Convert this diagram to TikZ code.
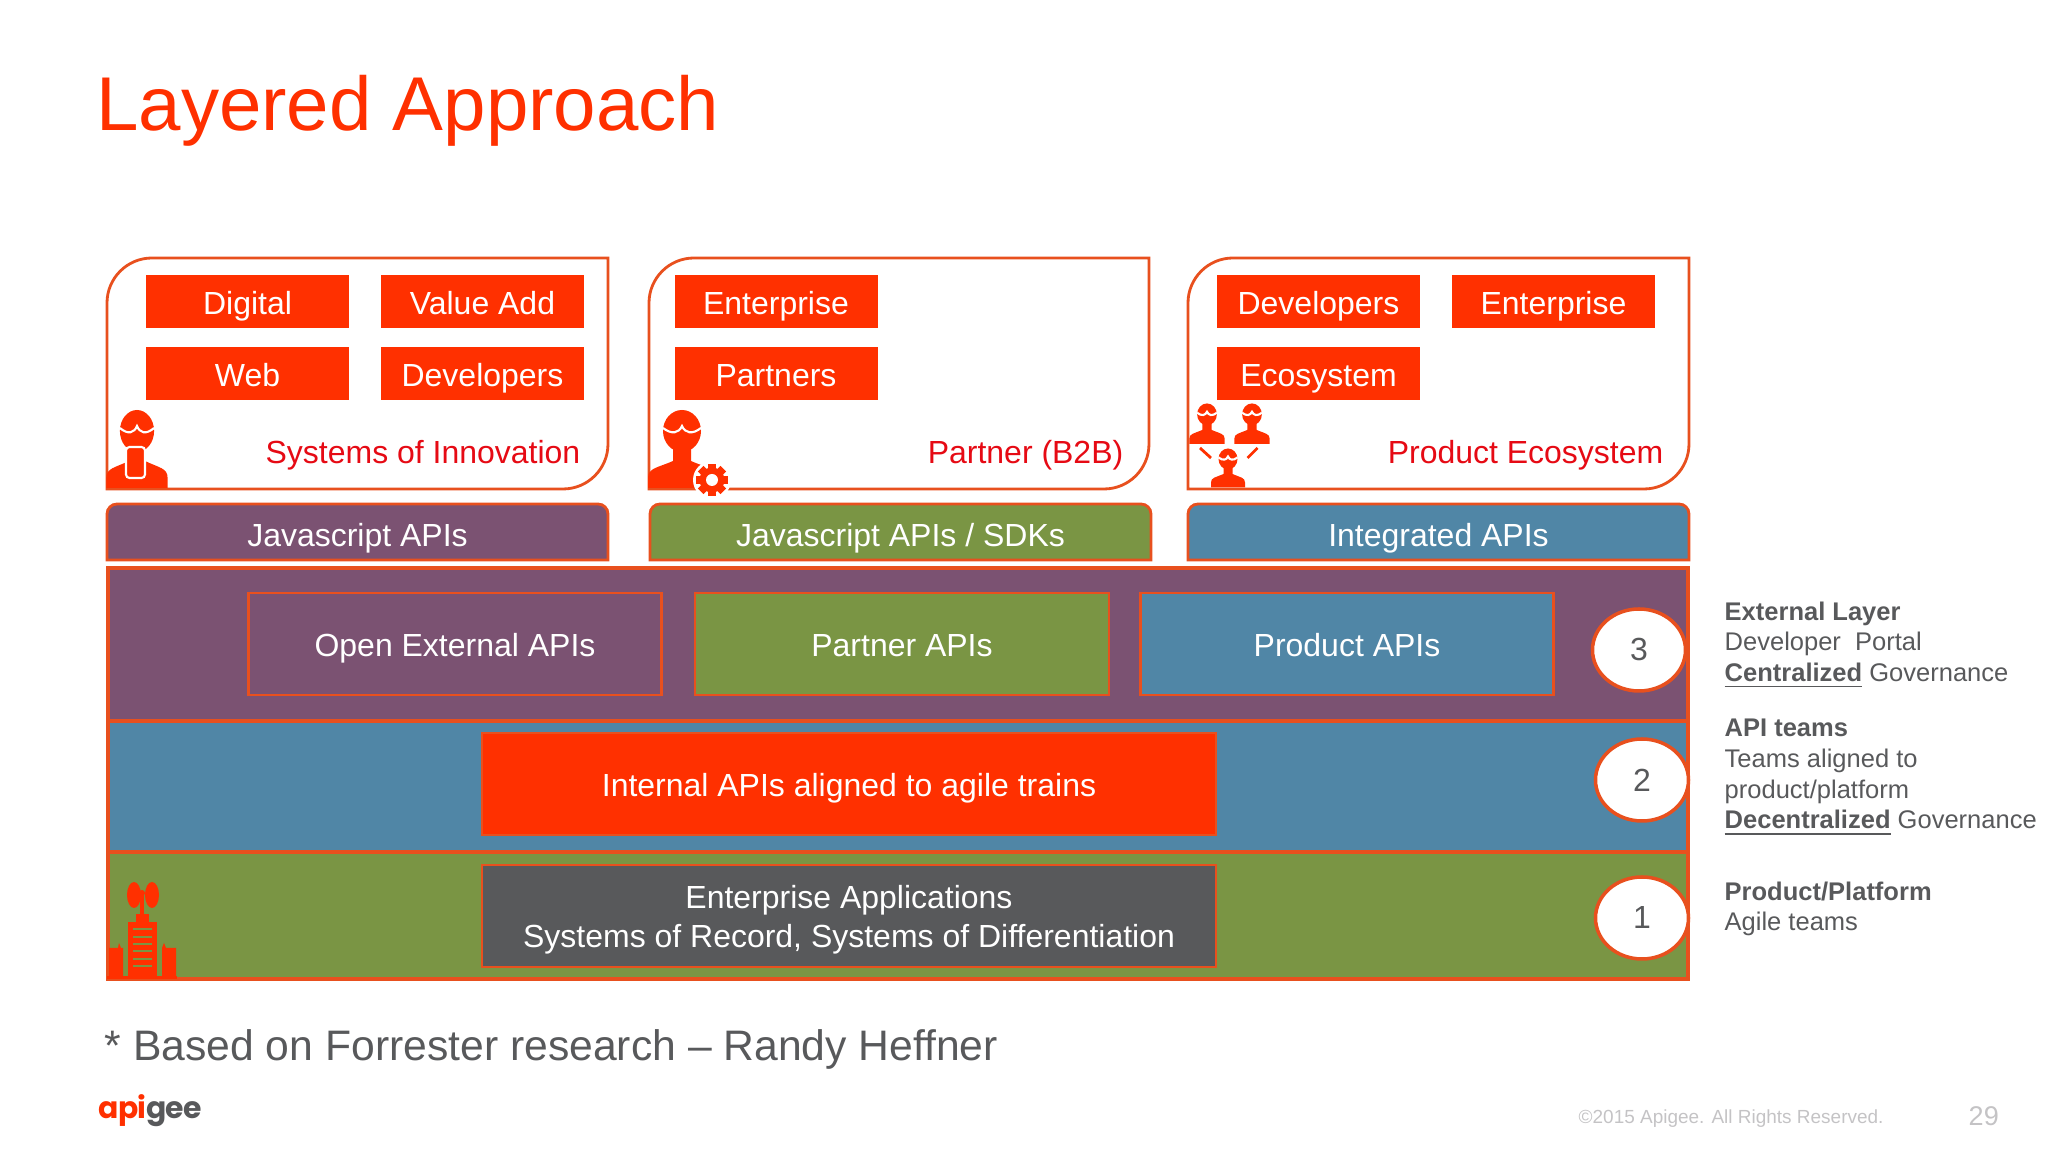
\documentclass[tikz,border=0pt]{standalone}
\usepackage{fontspec}
\setmainfont{Liberation Sans}
\newfontfamily\logofont[LetterSpace=-3]{Poppins}
\usepackage{tikz}
\usetikzlibrary{shapes.geometric}
\definecolor{apired}{RGB}{255,48,0}
\definecolor{edgered}{RGB}{232,80,30}
\definecolor{labelred}{RGB}{230,10,20}
\definecolor{plum}{RGB}{123,82,114}
\definecolor{moss}{RGB}{122,149,68}
\definecolor{steel}{RGB}{80,134,166}
\definecolor{slate}{RGB}{88,89,91}
\definecolor{faint}{RGB}{196,195,197}
\tikzstyle{Tag}=[shape=rectangle,fill=apired,text=white,minimum width=2.03cm,minimum height=0.53cm,inner sep=0pt,text height=7.4pt,text depth=0pt,font=\fontsize{9.1}{11}\selectfont]
\tikzstyle{Caption}=[text=labelred,inner sep=0pt,anchor=base east,font=\fontsize{9.1}{11}\selectfont]
\tikzstyle{Panel}=[draw=edgered,fill=white,line width=0.8pt]
\tikzstyle{Cap}=[draw=edgered,line width=0.8pt]
\tikzstyle{Strip}=[text=white,inner sep=0pt,text height=8.4pt,text depth=0pt,font=\fontsize{9.1}{11}\selectfont]
\tikzstyle{Band}=[shape=rectangle,draw=edgered,line width=1pt,minimum width=15.80cm,inner sep=0pt]
\tikzstyle{Api}=[shape=rectangle,draw=edgered,line width=0.8pt,text=white,minimum height=1.02cm,inner sep=0pt,text height=7.4pt,text depth=0pt,font=\fontsize{9.1}{11}\selectfont]
\tikzstyle{Step}=[shape=ellipse,draw=edgered,fill=white,text=slate,line width=1pt,minimum width=0.93cm,minimum height=0.82cm,inner sep=0pt,font=\fontsize{9.1}{11}\selectfont]
\tikzstyle{Note}=[text=slate,inner sep=0pt,anchor=north west,align=left,font=\fontsize{7.26}{8.73}\selectfont]
\tikzset{
 member/.pic={
  \fill[apired] (0,0.57) ellipse (0.19 and 0.21);
  \fill[apired] (-0.34,0) -- (-0.34,0.1) .. controls (-0.34,0.2) and (-0.25,0.2) .. (-0.09,0.27) -- (-0.09,0.4) -- (0.09,0.4) -- (0.09,0.27) .. controls (0.25,0.2) and (0.34,0.2) .. (0.34,0.1) -- (0.34,0) -- cycle;
  \draw[white,line width=0.6pt] (-0.19,0.6) .. controls (-0.1,0.53) and (-0.03,0.55) .. (0,0.62) .. controls (0.03,0.55) and (0.1,0.53) .. (0.19,0.6);
 }
}
\begin{document}
\begin{tikzpicture}
 \useasboundingbox (0,0) rectangle (20.48,-11.53);

 \node[text=apired,inner sep=0pt,anchor=base west,font=\fontsize{21.7}{26}\selectfont] (title) at (0.955,-1.31){Layered Approach};

 % top panels
 \draw[Panel] (1.07,-4.89) -- (1.07,-3.03) arc (180:90:0.45) -- (6.08,-2.58) -- (6.08,-4.44) arc (0:-90:0.45) -- cycle;
 \draw[Panel] (6.49,-4.89) -- (6.49,-3.03) arc (180:90:0.45) -- (11.49,-2.58) -- (11.49,-4.44) arc (0:-90:0.45) -- cycle;
 \draw[Panel] (11.88,-4.89) -- (11.88,-3.03) arc (180:90:0.45) -- (16.89,-2.58) -- (16.89,-4.44) arc (0:-90:0.45) -- cycle;

 \node[Tag] (digital) at (2.475,-3.015){Digital};
 \node[Tag] (valueadd) at (4.825,-3.015){Value Add};
 \node[Tag] (web) at (2.475,-3.735){Web};
 \node[Tag] (developers) at (4.825,-3.735){Developers};
 \node[Caption] (innovation) at (5.81,-4.635){Systems of Innovation};

 \node[Tag] (enterprise) at (7.76,-3.015){Enterprise};
 \node[Tag] (partners) at (7.76,-3.735){Partners};
 \node[Caption] (btob) at (11.24,-4.635){Partner (B2B)};

 \node[Tag] (devs) at (13.185,-3.015){Developers};
 \node[Tag] (ent) at (15.535,-3.015){Enterprise};
 \node[Tag] (ecosystem) at (13.185,-3.735){Ecosystem};
 \node[Caption] (prodeco) at (16.64,-4.635){Product Ecosystem};

 % people
 \pic[xscale=0.9] at (1.37,-4.88) {member};
 \draw[white,fill=apired,line width=0.6pt,rounded corners=1pt] (1.26,-4.47) rectangle (1.45,-4.78);

 \pic at (6.82,-4.88) {member};
 \fill[white] (7.12,-4.80) circle (0.19);
 \begin{scope}[shift={(7.12,-4.80)}]
 \foreach \a in {0,45,...,315}
  \fill[apired,rotate=\a] (-0.04,0) rectangle (0.04,0.16);
 \fill[apired] (0,0) circle (0.125);
 \fill[white] (0,0) circle (0.06);
 \end{scope}

 \pic[scale=0.52] at (12.07,-4.44) {member};
 \pic[scale=0.52] at (12.52,-4.44) {member};
 \pic[scale=0.5] at (12.28,-4.875) {member};
 \draw[apired,line width=0.8pt] (12.00,-4.48) -- (12.11,-4.58);
 \draw[apired,line width=0.8pt] (12.575,-4.48) -- (12.475,-4.58);

 % api bars
 \draw[Cap,fill=plum] (1.07,-5.60) -- (1.07,-5.14) arc (180:90:0.1) -- (5.98,-5.04) arc (90:0:0.1) -- (6.08,-5.60) -- cycle;
 \draw[Cap,fill=moss] (6.50,-5.60) -- (6.50,-5.14) arc (180:90:0.1) -- (11.41,-5.04) arc (90:0:0.1) -- (11.51,-5.60) -- cycle;
 \draw[Cap,fill=steel] (11.88,-5.60) -- (11.88,-5.14) arc (180:90:0.1) -- (16.79,-5.04) arc (90:0:0.1) -- (16.89,-5.60) -- cycle;
 \node[Strip] (jsapis) at (3.575,-5.32){Javascript APIs};
 \node[Strip] (jssdks) at (9.005,-5.32){Javascript APIs / SDKs};
 \node[Strip] (integrated) at (14.385,-5.32){Integrated APIs};

 % layers
 \node[Band,fill=plum,minimum height=1.53cm] (external) at (8.98,-6.445){};
 \node[Band,fill=steel,minimum height=1.31cm] (internal) at (8.98,-7.865){};
 \node[Band,fill=moss,minimum height=1.27cm] (base) at (8.98,-9.155){};

 \node[Api,fill=plum,minimum width=4.13cm] (open) at (4.55,-6.44){Open External APIs};
 \node[Api,fill=moss,minimum width=4.14cm] (partner) at (9.02,-6.44){Partner APIs};
 \node[Api,fill=steel,minimum width=4.13cm] (product) at (13.47,-6.44){Product APIs};
 \node[Api,fill=apired,minimum width=7.34cm] (agile) at (8.49,-7.84){Internal APIs aligned to agile trains};
 \node[Api,fill=slate,minimum width=7.34cm] (records) at (8.49,-9.16){};
 \node[text=white,inner sep=0pt,align=center,font=\fontsize{9.1}{11}\selectfont] (recordstext) at (8.49,-9.20){Enterprise Applications\\Systems of Record, Systems of Differentiation};

 \node[Step] (three) at (16.39,-6.50){3};
 \node[Step] (two) at (16.42,-7.80){2};
 \node[Step] (one) at (16.42,-9.18){1};

 % tower
 \fill[apired] (1.28,-9.78) rectangle (1.57,-9.22);
 \fill[apired] (1.36,-9.22) rectangle (1.49,-9.14);
 \fill[apired] (1.40,-9.14) rectangle (1.44,-8.93);
 \fill[apired] (1.42,-8.93) circle (0.03);
 \fill[apired] (1.34,-8.95) ellipse (0.07 and 0.13);
 \fill[apired] (1.52,-8.95) ellipse (0.07 and 0.13);
 \fill[apired] (1.09,-9.78) -- (1.09,-9.48) -- (1.18,-9.48) -- (1.19,-9.43) -- (1.21,-9.48) -- (1.23,-9.48) -- (1.23,-9.78) -- cycle;
 \fill[apired] (1.62,-9.78) -- (1.62,-9.48) -- (1.64,-9.43) -- (1.66,-9.48) -- (1.76,-9.48) -- (1.76,-9.78) -- cycle;
 \fill[apired] (1.07,-9.79) rectangle (1.77,-9.76);
 \foreach \y in {9.29,9.37,9.44,9.51,9.59,9.66}
  \fill[moss] (1.33,-\y-0.01) rectangle (1.52,-\y+0.01);

 % notes
 \node[Note] (extnote) at (17.24,-6.01){\textbf{External Layer}\\Developer\ \ Portal\\\underline{\textbf{Centralized}} Governance};
 \node[Note] (apinote) at (17.24,-7.185){\textbf{API teams}\\Teams aligned to\\product/platform\\\underline{\textbf{Decentralized}} Governance};
 \node[Note] (prodnote) at (17.24,-8.81){\textbf{Product/Platform}\\Agile teams};

 \node[text=slate,inner sep=0pt,anchor=base west,font=\fontsize{12.14}{15}\selectfont] (source) at (1.04,-10.61){* Based on Forrester research -- Randy Heffner};
 \node[inner sep=0pt,anchor=base west,font=\fontsize{8.5}{10}\logofont\bfseries] (logo) at (0.98,-11.19){\textcolor{apired}{api}\textcolor{slate}{gee}};
 \node[text=faint,inner sep=0pt,anchor=base west,font=\fontsize{5.4}{7}\selectfont] (rights) at (15.78,-11.24){©2015 Apigee. All Rights Reserved.};
 \node[text=faint,inner sep=0pt,anchor=base west,font=\fontsize{7.7}{9}\selectfont] (page) at (19.68,-11.26){29};
\end{tikzpicture}
\end{document}
